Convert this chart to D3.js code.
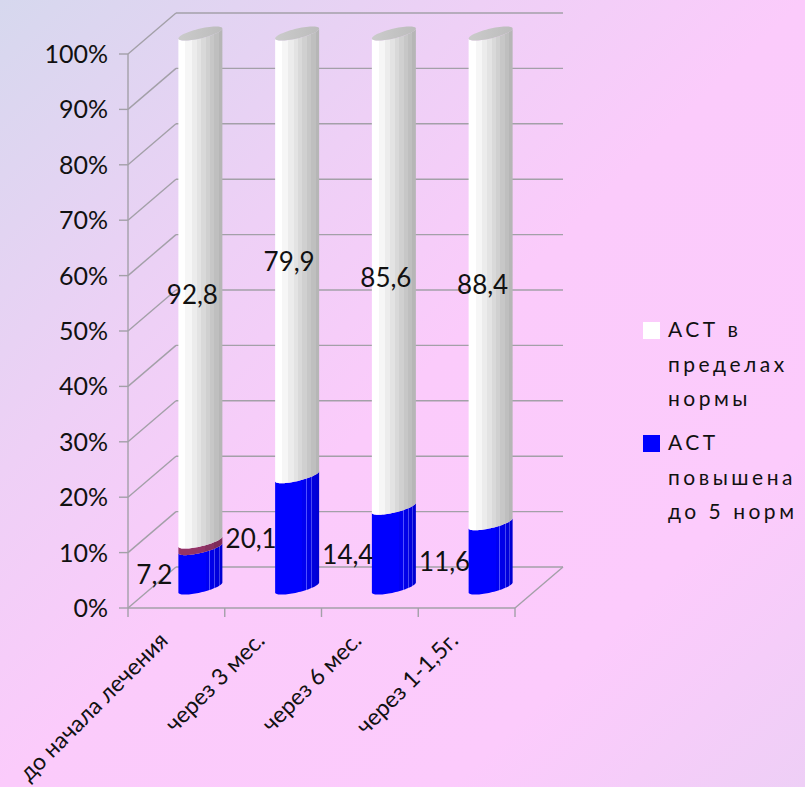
<!DOCTYPE html>
<html>
<head>
<meta charset="utf-8">
<script src="https://cdn.jsdelivr.net/npm/d3@7/dist/d3.min.js"></script>
<style>
  html, body { margin: 0; padding: 0; }
  body { width: 805px; height: 787px; overflow: hidden; }
  svg { display: block; font-family: Lato, "Open Sans", sans-serif; }
</style>
</head>
<body>
<svg id="chart" width="805" height="787"></svg>
<script>
// Categories (time points) and stacked series values, %
const categories = ["до начала лечения", "через 3 мес.", "через 6 мес.", "через 1-1,5г."];
const normalValues = [92.8, 79.9, 85.6, 88.4];      // АСТ в пределах нормы
const elevatedValues = [7.2, 20.1, 14.4, 11.6];     // АСТ повышена до 5 норм
const highValues = [1.2, 0, 0, 0];                  // thin top band on the first cylinder
const percentTicks = [0, 10, 20, 30, 40, 50, 60, 70, 80, 90, 100];
const legendNormal = ["АСТ  в", "пределах", "нормы"];
const legendElevated = ["АСТ", "повышена", "до 5 норм"];

const svg = d3.select("#chart");
const W = 805, H = 787;

// ---- background ----
const defs = svg.append("defs");
const bg = defs.append("linearGradient").attr("id", "bg")
  .attr("x1", "0").attr("y1", "0").attr("x2", "1").attr("y2", "1");
[["0%", "#d6d8ee"], ["30%", "#eed0f6"], ["50%", "#fbcbfb"], ["78%", "#fccbfc"], ["100%", "#eecff6"]]
  .forEach(([o, c]) => bg.append("stop").attr("offset", o).attr("stop-color", c));
svg.append("rect").attr("width", W).attr("height", H).attr("fill", "url(#bg)");

// ---- 3D frame geometry ----
const x0 = 128, x1 = 515;           // front floor edge
const depthX = 48, depthY = -41;    // oblique depth offset
const yFront = d3.scaleLinear().domain([0, 100]).range([608, 54]);
const xBand = d3.scaleBand().domain(categories).range([x0, x1]).padding(0);
const gridColor = "#a3a0a8";

const frame = svg.append("g").attr("stroke", gridColor).attr("stroke-width", 1.4).attr("fill", "none");
// back wall horizontal gridlines + side wall diagonals
percentTicks.forEach(t => {
  const yf = yFront(t);
  frame.append("line").attr("x1", x0 + depthX).attr("y1", yf + depthY)
    .attr("x2", x1 + depthX).attr("y2", yf + depthY);
  frame.append("line").attr("x1", x0).attr("y1", yf)
    .attr("x2", x0 + depthX).attr("y2", yf + depthY);
  frame.append("line").attr("x1", x0 - 9).attr("y1", yf).attr("x2", x0).attr("y2", yf);
});
// value axis line
frame.append("line").attr("x1", x0).attr("y1", yFront(0)).attr("x2", x0).attr("y2", yFront(100));
// floor front edge and right edge
frame.append("line").attr("x1", x0).attr("y1", yFront(0)).attr("x2", x1).attr("y2", yFront(0));
frame.append("line").attr("x1", x1).attr("y1", yFront(0)).attr("x2", x1 + depthX).attr("y2", yFront(0) + depthY);
// category ticks
categories.concat([null]).forEach((c, i) => {
  const x = c === null ? x1 : xBand(c);
  frame.append("line").attr("x1", x).attr("y1", yFront(0)).attr("x2", x).attr("y2", yFront(0) + 9);
});

// value axis labels
svg.append("g").selectAll("text").data(percentTicks).join("text")
  .attr("x", 108).attr("y", d => yFront(d) + 9)
  .attr("text-anchor", "end").attr("font-size", 25).attr("fill", "#111")
  .text(d => d + "%");

// category labels
svg.append("g").selectAll("text").data(categories).join("text")
  .attr("transform", d => `translate(${xBand(d) + xBand.bandwidth() / 2 - 7},${642}) rotate(-45)`)
  .attr("text-anchor", "end").attr("font-size", 23).attr("fill", "#111")
  .text(d => d);

// ---- stacked cylinders ----
const rows = categories.map((c, i) => ({ cat: c, elevated: elevatedValues[i], high: highValues[i], normal: normalValues[i] }));
const keys = ["elevated", "high", "normal"];
const stacked = d3.stack().keys(keys).offset(d3.stackOffsetExpand)(rows);

// cylinder sits at mid-depth
const yCyl = v => yFront(v * 100) + depthY / 2;
const rx = 22, ry = 5, tilt = 5;
const cxOf = c => xBand(c) + xBand.bandwidth() / 2 + depthX / 2;

function ellPt(cx, yc, t) {
  return [cx + rx * Math.cos(t), yc - tilt * Math.cos(t) + ry * Math.sin(t)];
}
function bodyPath(cx, v0, v1) {
  const yb = yCyl(v0), yt = yCyl(v1);
  const pts = [];
  const n = 40;
  for (let i = 0; i <= n; i++) pts.push(ellPt(cx, yb, Math.PI - Math.PI * i / n)); // bottom front, left→right
  for (let i = 0; i <= n; i++) pts.push(ellPt(cx, yt, Math.PI * i / n));           // top front, right→left
  return "M" + pts.map(p => p[0].toFixed(2) + "," + p[1].toFixed(2)).join("L") + "Z";
}
function capPath(cx, v) {
  const yc = yCyl(v);
  const pts = d3.range(0, 61).map(i => ellPt(cx, yc, 2 * Math.PI * i / 60));
  return "M" + pts.map(p => p[0].toFixed(2) + "," + p[1].toFixed(2)).join("L") + "Z";
}

// banded horizontal shading for each series
function bandGrad(id, bands) {
  const g = defs.append("linearGradient").attr("id", id).attr("x1", "0").attr("x2", "1").attr("y1", "0").attr("y2", "0");
  bands.forEach(([a, b, col]) => {
    g.append("stop").attr("offset", a).attr("stop-color", col);
    g.append("stop").attr("offset", b).attr("stop-color", col);
  });
}
bandGrad("g-normal", [[0, 0.16, "#ffffff"], [0.16, 0.3, "#f6f6f6"], [0.3, 0.42, "#ececec"], [0.42, 0.52, "#e3e3e3"],
  [0.52, 0.62, "#d9d9d9"], [0.62, 0.72, "#d0d0d0"], [0.72, 0.82, "#c7c7c7"], [0.82, 0.92, "#bfbfbf"], [0.92, 1, "#b6b6b6"]]);
bandGrad("g-elevated", [[0, 0.62, "#0000ff"], [0.62, 0.7, "#0000f2"], [0.7, 0.72, "#5050ff"], [0.72, 0.82, "#0000e8"],
  [0.82, 0.84, "#4848f0"], [0.84, 0.92, "#0000dc"], [0.92, 0.94, "#4040e6"], [0.94, 1, "#0000d2"]]);
bandGrad("g-high", [[0, 0.6, "#933466"], [0.6, 0.8, "#873060"], [0.8, 1, "#7c2b58"]]);
const fills = { elevated: "url(#g-elevated)", high: "url(#g-high)", normal: "url(#g-normal)" };

const cyl = svg.append("g");
stacked.forEach(layer => {
  cyl.append("g").selectAll("path").data(layer.filter(d => d[1] - d[0] > 0)).join("path")
    .attr("d", d => bodyPath(cxOf(d.data.cat), d[0], d[1]))
    .attr("fill", fills[layer.key]);
});
// top caps
const capGrad = defs.append("linearGradient").attr("id", "g-cap").attr("x1", "0").attr("x2", "1");
capGrad.append("stop").attr("offset", "0").attr("stop-color", "#cbcbcb");
capGrad.append("stop").attr("offset", "1").attr("stop-color", "#bcbcbc");
cyl.append("g").selectAll("path").data(categories).join("path")
  .attr("d", c => capPath(cxOf(c), 1)).attr("fill", "url(#g-cap)");

// ---- data labels ----
const labels = svg.append("g").attr("font-size", 26).attr("fill", "#111").attr("text-anchor", "middle");
const layerBy = Object.fromEntries(stacked.map(l => [l.key, l]));
layerBy.normal.forEach((d, i) => {
  labels.append("text")
    .attr("x", cxOf(d.data.cat) - 8)
    .attr("y", yCyl((d[0] + d[1]) / 2) + 16)
    .text(String(normalValues[i]).replace(".", ","));
});
layerBy.elevated.forEach((d, i) => {
  labels.append("text")
    .attr("x", cxOf(d.data.cat) - 46)
    .attr("y", yCyl((d[0] + d[1]) / 2) + 16)
    .text(String(elevatedValues[i]).replace(".", ","));
});

// ---- legend ----
const legend = svg.append("g").attr("font-size", 21).attr("fill", "#111")
  .attr("letter-spacing", "3.5px").style("white-space", "pre");
[[legendNormal, "#ffffff", 337], [legendElevated, "#0000ff", 450]].forEach(([lines, col, y]) => {
  legend.append("rect").attr("x", 643).attr("y", y - 15).attr("width", 17).attr("height", 17).attr("fill", col);
  lines.forEach((ln, j) => {
    legend.append("text").attr("x", 668).attr("y", y + j * 34.5).text(ln);
  });
});
</script>
</body>
</html>
